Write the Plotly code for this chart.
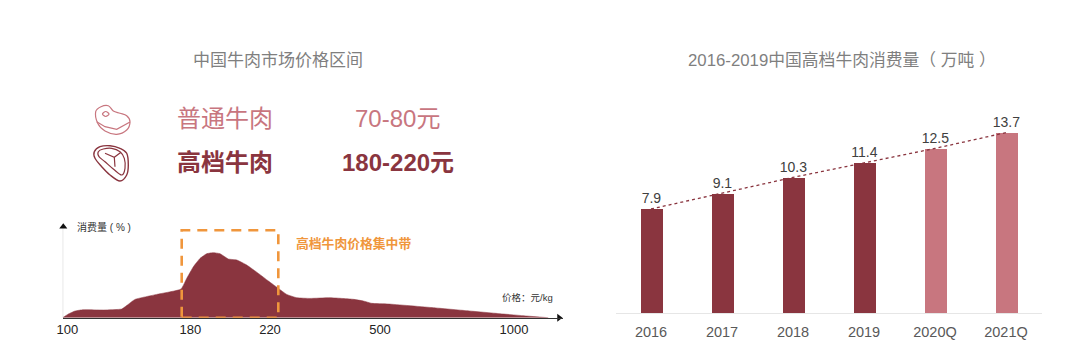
import plotly.graph_objects as go

W, H = 1080, 354
BODY = 8  # page margin around the plot
FONT = "Liberation Sans, Noto Sans CJK SC, sans-serif"
DARK = "#8a353f"
LIGHT = "#c8767f"
ORANGE = "#f0963c"

# right chart
years = ["2016", "2017", "2018", "2019", "2020Q", "2021Q"]
tons = [7.9, 9.1, 10.3, 11.4, 12.5, 13.7]
bar_colors = [DARK, DARK, DARK, DARK, LIGHT, LIGHT]

# left chart (position along the non-linear price axis, consumption share)
price_pos = [0, 5.7, 12.3, 20.7, 40.7, 59, 64.7, 72.3, 94, 118.3, 124, 130.7, 137.3, 144, 150.7, 157.3,
             165.7, 174, 184, 195.7, 205.7, 215.7, 224, 234, 247.3, 267.3, 290.7, 300.7, 309, 325.7,
             370.6, 404, 437.3, 464, 485.6]
share = [0, 3.7, 6.7, 8, 7.7, 8.7, 12.7, 18.3, 23.3, 28.7, 39.3, 51, 59.3, 64, 65, 64,
         58.7, 57.7, 52.7, 44.3, 36.7, 29.3, 23.3, 20, 19.3, 20, 18.4, 16.7, 14.4, 13.7,
         10, 7, 4, 1.7, 0]
price_ticks = [4.6, 127.6, 207.3, 317.3, 451.3]
price_labels = ["100", "180", "220", "500", "1000"]
band = [119, 215.6]


def px(x):
    return (x - BODY) / (W - BODY)


def py(y):
    return 1 - (y - BODY) / (H - BODY)


def path(points):
    """Catmull-Rom closed outline in paper coordinates."""
    n = len(points)
    d = f"M{px(points[0][0]):.5f},{py(points[0][1]):.5f}"
    for i in range(n):
        p0, p1, p2, p3 = points[i - 1], points[i], points[(i + 1) % n], points[(i + 2) % n]
        c1 = (p1[0] + (p2[0] - p0[0]) / 6, p1[1] + (p2[1] - p0[1]) / 6)
        c2 = (p2[0] - (p3[0] - p1[0]) / 6, p2[1] - (p3[1] - p1[1]) / 6)
        d += f" C{px(c1[0]):.5f},{py(c1[1]):.5f} {px(c2[0]):.5f},{py(c2[1]):.5f} {px(p2[0]):.5f},{py(p2[1]):.5f}"
    return d + " Z"


def polyline(points):
    return " ".join(("M" if i == 0 else "L") + f"{px(x):.5f},{py(y):.5f}" for i, (x, y) in enumerate(points))


fig = go.Figure()

# area
fig.add_trace(go.Scatter(x=price_pos, y=share, mode="lines", fill="tozeroy", fillcolor=DARK,
                         line=dict(color=DARK, width=0.5, shape="spline", smoothing=0.4),
                         xaxis="x", yaxis="y", hoverinfo="skip"))
# arrowheads of the left axes
fig.add_trace(go.Scatter(x=[0.6], y=[91], mode="markers", xaxis="x", yaxis="y", cliponaxis=False,
                         marker=dict(symbol="triangle-up", size=7, color="#111111"), hoverinfo="skip"))
fig.add_trace(go.Scatter(x=[496.3], y=[0], mode="markers", xaxis="x", yaxis="y", cliponaxis=False,
                         marker=dict(symbol="triangle-right", size=7, color="#111111"), hoverinfo="skip"))

# bars
fig.add_trace(go.Bar(x=years, y=tons, marker=dict(color=bar_colors, line_width=0), width=0.31,
                     text=[f"{v:.1f}" for v in tons], textposition="outside", cliponaxis=False,
                     constraintext="none", textangle=0,
                     textfont=dict(family=FONT, size=14, color="#404040"),
                     xaxis="x2", yaxis="y2", hoverinfo="skip"))
fig.add_trace(go.Scatter(x=years, y=tons, mode="lines", line=dict(color=DARK, width=1.3, dash="dot"),
                         xaxis="x2", yaxis="y2", hoverinfo="skip"))

shapes = [
    dict(type="rect", xref="x", yref="y", x0=band[0], x1=band[1], y0=0, y1=87.4,
         line=dict(color=ORANGE, width=2.6, dash="10px,7px"), layer="above"),
    dict(type="line", xref="x", yref="y", x0=0, x1=0, y0=0, y1=90, line=dict(color="#c8c8c8", width=1), layer="below"),
    dict(type="path", line=dict(color=LIGHT, width=1.2), xref="paper", yref="paper",
         path=path([(95.7, 111.7), (101, 106.7), (108.3, 105.7), (113.3, 111), (120, 113.3), (126.7, 115.7),
                    (130, 121.7), (126.7, 130), (116.7, 134.3), (105, 131), (97.7, 123.3)])),
    dict(type="path", line=dict(color=LIGHT, width=1.2), xref="paper", yref="paper",
         path=path([(102.5, 114), (105.7, 111.5), (109, 114), (105.7, 116.5)])),
    dict(type="path", line=dict(color=LIGHT, width=1.2), xref="paper", yref="paper",
         path=polyline([(96.7, 121.7), (105, 126.7), (116.7, 129.3), (130, 122)])),
    dict(type="path", line=dict(color=DARK, width=1.4), xref="paper", yref="paper",
         path=path([(94.3, 151.7), (100, 146.7), (110, 145.7), (120, 148.3), (126.7, 153.3), (128.3, 165),
                    (126.7, 175), (120, 181), (110, 175), (101.7, 166.7), (95, 158.3)])),
    dict(type="path", line=dict(color=DARK, width=1.2), xref="paper", yref="paper",
         path=path([(98.3, 151.7), (103.3, 149), (111.7, 148.3), (120, 151.7), (124.3, 158.3), (125, 168.3),
                    (121.7, 175), (113.3, 169), (105, 161.7), (99, 156.7)])),
    dict(type="path", line=dict(color=DARK, width=1.2), xref="paper", yref="paper",
         path=polyline([(105, 153.3), (114.3, 157.3), (121, 152.3)]) + " " + polyline([(114.3, 157.3), (115, 166.7)])),
]


def note(x, y, text, size, color, bold=False):
    return dict(xref="paper", yref="paper", x=px(x), y=py(y), xanchor="center", yanchor="middle",
                showarrow=False, text=f"<b>{text}</b>" if bold else text,
                font=dict(family=FONT, size=size, color=color))


annotations = [
    note(278, 60, "中国牛肉市场价格区间", 17, "#7f7f7f"),
    note(842, 60, "2016-2019中国高档牛肉消费量（ 万吨 ）", 16.8, "#7f7f7f"),
    note(225, 118, "普通牛肉", 24, LIGHT),
    note(397.5, 118, "70-80元", 24, LIGHT),
    note(225, 162, "高档牛肉", 24, DARK, True),
    note(397.5, 162, "180-220元", 24, DARK, True),
    note(104, 227, "消费量 ( % )", 10, "#333333"),
    note(353.4, 243, "高档牛肉价格集中带", 12.8, ORANGE, True),
    note(527, 297, "价格：元/kg", 9.5, "#333333"),
]

fig.update_layout(
    width=W - BODY, height=H - BODY, margin=dict(l=0, r=0, t=0, b=0, autoexpand=False), autosize=False,
    paper_bgcolor="white", plot_bgcolor="white", showlegend=False, bargap=0,
    font=dict(family=FONT), shapes=shapes, annotations=annotations,
    xaxis=dict(domain=[px(62.7), px(563)], range=[0, 500.3], tickmode="array", tickvals=price_ticks,
               ticktext=price_labels, ticks="", showgrid=False, zeroline=False,
               showline=True, linecolor="#333333", linewidth=1, anchor="y",
               tickfont=dict(family=FONT, size=13, color="#222222")),
    yaxis=dict(domain=[py(317.7), py(223)], range=[0, 94.7], visible=False, anchor="x"),
    xaxis2=dict(domain=[px(615.5), px(1041.5)], type="category", range=[-0.5, 5.5], ticks="",
                showgrid=False, zeroline=False, showline=True, linecolor="#e6e6e6", linewidth=1,
                anchor="y2", ticklabelstandoff=6, tickfont=dict(family=FONT, size=14.5, color="#595959")),
    yaxis2=dict(domain=[py(313), py(115.5)], range=[0, 15], visible=False, anchor="x2"),
)

fig.write_html("out.html")
